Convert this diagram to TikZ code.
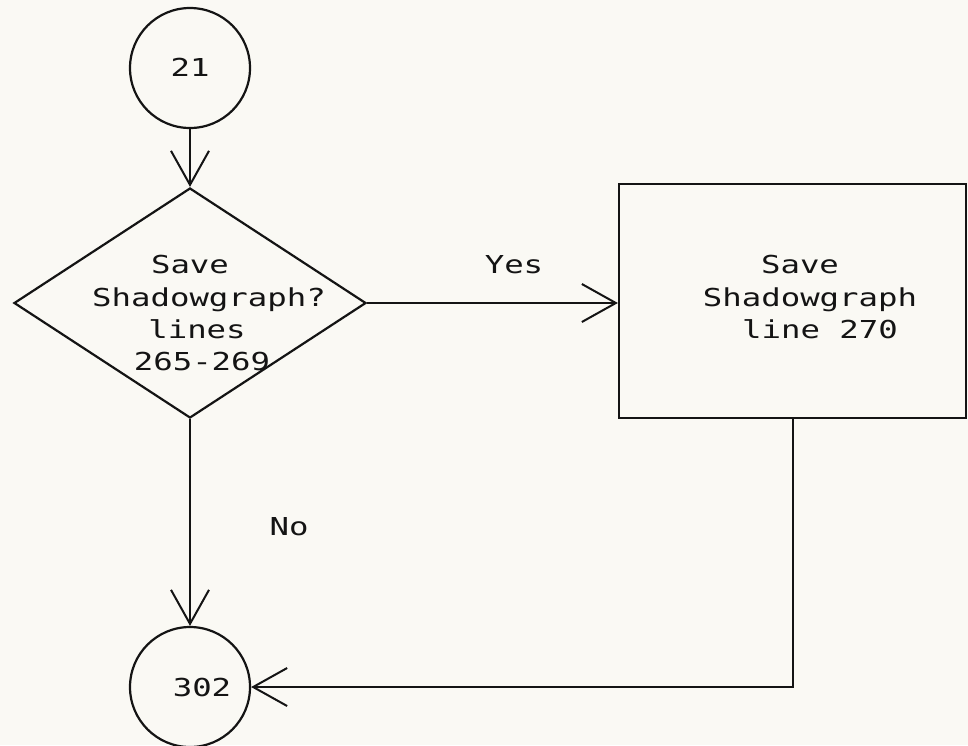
\documentclass[tikz,border=0pt]{standalone}
\usepackage{fontspec}
\usetikzlibrary{shapes.geometric,arrows.meta,calc}
\newfontfamily\plotfont[FakeStretch=1.31]{DejaVu Sans Mono}
\definecolor{paper}{RGB}{250,249,244}
\definecolor{ink}{RGB}{20,20,20}
\begin{document}
\begin{tikzpicture}[x=1pt,y=-1pt,
  every node/.style={font=\plotfont\fontsize{24.7}{30}\selectfont, text=ink},
  lbl/.style={anchor=base, inner sep=0pt},
  shapebox/.style={draw=ink, line width=2.2pt, inner sep=0pt},
  flow/.style={draw=ink, line width=2pt, -{Straight Barb[length=34pt,width=38pt,line width=2pt]}}]
\fill[paper] (0,0) rectangle (968,745);
\useasboundingbox (0,0) rectangle (968,745);
% nodes
\node[shapebox, circle, minimum size=120pt] (c21) at (190,68) {};
\node[lbl] (t21) at (190,76.5) {21};
\node[shapebox, diamond, minimum width=352pt, minimum height=230pt] (dec) at (190,303) {};
\node[lbl] (d1) at (190,273) {Save};
\node[lbl] (d2) at (209,306) {Shadowgraph?};
\node[lbl] (d3) at (197,338) {lines};
\node[lbl] (d4) at (202,370) {265-269};
\node[shapebox, rectangle, minimum width=347pt, minimum height=234pt] (box) at (792.5,301) {};
\node[lbl] (b1) at (800,273) {Save};
\node[lbl] (b2) at (810,306) {Shadowgraph};
\node[lbl] (b3) at (820,338) {line 270};
\node[lbl] (yes) at (514,273) {Yes};
\node[lbl] (no) at (289,535) {No};
\node[shapebox, circle, minimum size=120pt] (c302) at (190,687) {};
\node[lbl] (t302) at (202,696) {302};
\coordinate (corner) at (792.5,687);
% connectors
\draw[flow] (c21.south) -- (dec.north);
\draw[flow] (dec.east) -- (dec.east -| box.west);
\draw[flow] (dec.south) -- (c302.north);
\draw[flow] (box.south) -- (corner) -- (c302.east);
\end{tikzpicture}
\end{document}
